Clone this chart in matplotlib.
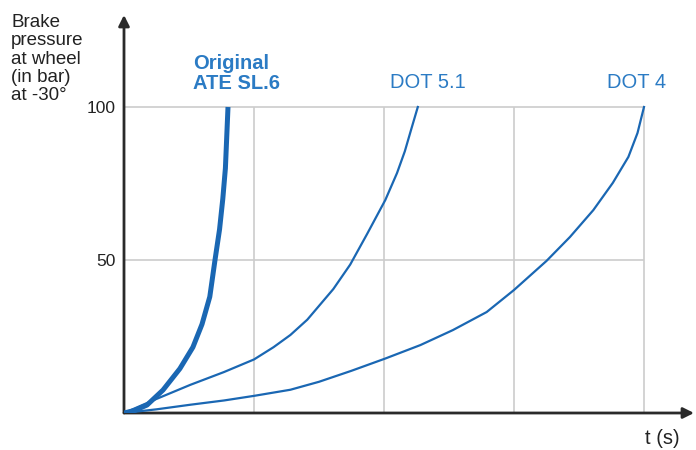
import matplotlib.pyplot as plt

plt.rcParams['font.family'] = ['Liberation Sans', 'DejaVu Sans']

# curves (x in grid units, y in bar)
ate_t = [0.0, 0.08, 0.177, 0.30, 0.43, 0.53, 0.60, 0.66, 0.70, 0.735, 0.76, 0.78, 0.79, 0.80]
ate_p = [0.0, 0.8, 2.6, 7.5, 14.5, 21.5, 29.0, 38.0, 50.0, 60.0, 70.0, 80.0, 90.0, 100.0]

dot51_t = [0.0, 0.25, 0.51, 0.77, 1.0, 1.15, 1.28, 1.41, 1.61, 1.74, 1.87, 2.01, 2.10,
           2.16, 2.21, 2.26]
dot51_p = [0.0, 4.6, 9.2, 13.4, 17.5, 21.5, 25.5, 30.5, 40.5, 48.5, 58.5, 69.6, 78.4,
           85.5, 92.8, 100.0]

dot4_t = [0.0, 0.25, 0.51, 0.77, 1.0, 1.28, 1.5, 1.75, 2.01, 2.28, 2.53, 2.79, 3.0,
          3.25, 3.43, 3.61, 3.76, 3.88, 3.95, 4.0]
dot4_p = [0.0, 1.2, 2.7, 4.1, 5.6, 7.6, 10.2, 13.8, 17.8, 22.2, 27.1, 33.0, 40.2,
          49.7, 57.5, 66.3, 75.2, 83.7, 91.5, 100.0]

grid_x = [1, 2, 3, 4]
grid_y = [50, 100]
yticks = [50, 100]

line_col = '#1a67b3'
text_col = '#2b7bc4'
grid_col = '#cccccc'
axis_col = '#2a2a2a'

fig = plt.figure(figsize=(6.96, 4.5), dpi=100)
ax = fig.add_axes([124 / 696, 37 / 450, (694 - 124) / 696, (413 - 15) / 450])
ax.set_xlim(0, (694 - 124) / 130)
ax.set_ylim(0, (413 - 15) / 3.06)

for s in ax.spines.values():
    s.set_visible(False)

# grid box
ax.vlines(grid_x, 0, 100, color=grid_col, lw=1.2, zorder=1)
ax.hlines(grid_y, 0, 4, color=grid_col, lw=1.2, zorder=1)

# axes with arrows
ax.annotate('', xy=(1, 0), xytext=(0, 0), xycoords='axes fraction',
            arrowprops=dict(arrowstyle='-|>', color=axis_col, lw=2.0, mutation_scale=16, shrinkA=0, shrinkB=0))
ax.annotate('', xy=(0, 1), xytext=(0, 0), xycoords='axes fraction',
            arrowprops=dict(arrowstyle='-|>', color=axis_col, lw=2.0, mutation_scale=16, shrinkA=0, shrinkB=0))

# curves
ax.plot(dot4_t, dot4_p, color=line_col, lw=1.6, zorder=3, solid_joinstyle='round')
ax.plot(dot51_t, dot51_p, color=line_col, lw=1.6, zorder=3, solid_joinstyle='round')
ax.plot(ate_t, ate_p, color=line_col, lw=3.6, zorder=4, solid_capstyle='butt', solid_joinstyle='round')

ax.set_xticks([])
ax.set_yticks(yticks)
ax.set_yticklabels([str(v) for v in yticks], fontsize=12.5, color='#222222')
ax.tick_params(axis='y', length=0, pad=6)

# curve labels
ax.text(0.53, 104.5, 'Original\nATE SL.6', color=text_col, fontsize=14.5, fontweight='bold',
        ha='left', va='bottom', linespacing=1.08)
ax.text(2.34, 105.0, 'DOT 5.1', color=text_col, fontsize=14.5, ha='center', va='bottom')
ax.text(3.94, 105.0, 'DOT 4', color=text_col, fontsize=14.5, ha='center', va='bottom')

# axis titles
fig.text(11 / 696, 1 - 14 / 450, 'Brake\npressure\nat wheel\n(in bar)\nat -30°', fontsize=13.5,
         color='#222222', ha='left', va='top', linespacing=1.1)
fig.text(662 / 696, 1 - 438 / 450, 't (s)', fontsize=14.5, color='#222222', ha='center', va='center')

fig.savefig('out.png', dpi=100)
